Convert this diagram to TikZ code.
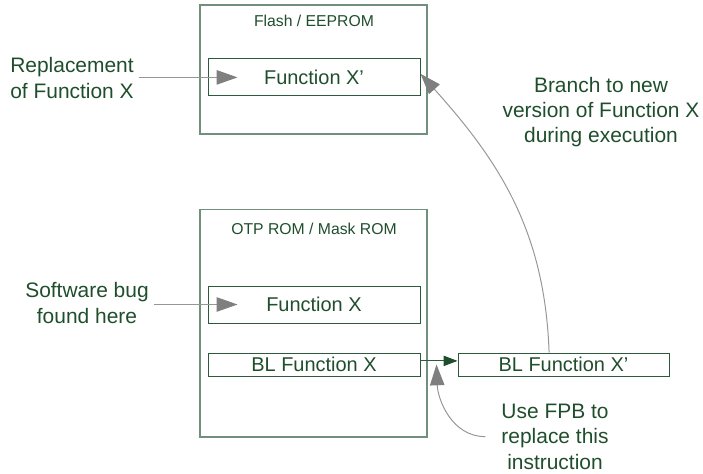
\documentclass[tikz,border=0pt]{standalone}
\usepackage{fontspec}
\setmainfont{Liberation Sans}
\usetikzlibrary{arrows.meta}
\definecolor{txtgreen}{HTML}{1F4E2C}
\definecolor{memframe}{HTML}{708F7C}
\definecolor{fnframe}{HTML}{2D5A3C}
\definecolor{ptrline}{HTML}{969696}
\definecolor{ptrhead}{HTML}{7F7F7F}

\begin{document}
\begin{tikzpicture}[
          x=1cm, y=1cm,
          every node/.style={text=txtgreen},
          mem/.style={draw=memframe, line width=0.9pt, minimum width=5.675cm},
          fn/.style={draw=fnframe, line width=0.7pt, inner sep=0pt, minimum width=5.3cm, font=\fontsize{14.2}{17}\selectfont},
          title/.style={font=\fontsize{11.2}{13}\selectfont},
          lbl/.style={align=center, font=\fontsize{14.9}{18}\selectfont},
          ptr/.style={draw=ptrline, line width=0.7pt, -{Triangle[length=5.2mm, width=3.6mm, color=ptrhead]}}
      ]
        \useasboundingbox (0,0) rectangle (17.575,11.825);
        % upper memory
        \node[mem, minimum height=3.225cm] (flash) at (7.84,10.09) {};
        \node[title] (flashtitle) at (7.85,11.3) {Flash / EEPROM};
        \node[fn, minimum height=0.925cm] (fnxnew) at (7.85,9.89) {Function X'};
        % lower memory
        \node[mem, minimum height=5.69cm] (otp) at (7.84,3.745) {};
        \node[title] (otptitle) at (7.85,6.1) {OTP ROM / Mask ROM};
        \node[fn, minimum height=0.925cm] (fnx) at (7.85,4.2125) {Function X};
        \node[fn, minimum height=0.575cm] (blx) at (7.85,2.7125) {BL Function X};
        \node[fn, minimum height=0.575cm, minimum width=5.275cm] (blxnew) at (14.0875,2.7125) {BL Function X'};
        % labels
        \node[lbl] (repl) at (1.8,9.875) {Replacement\\of Function X};
        \node[lbl] (bug) at (2.175,4.25) {Software bug\\found here};
        \node[lbl] (branch) at (15.025,9.02) {Branch to new\\version of Function X\\during execution};
        \node[lbl] (fpb) at (13.875,0.91) {Use FPB to\\replace this\\instruction};
        % connectors
        \draw[ptr] (repl.east |- fnxnew) -- ([xshift=0.75cm]fnxnew.west);
        \draw[ptr] (bug.east |- fnx) -- ([xshift=0.75cm]fnx.west);
        \draw[draw=fnframe, line width=0.7pt, -{Triangle[length=3.5mm, width=2.6mm, color=txtgreen]}] ([yshift=0.09cm]blx.east) -- ([yshift=0.09cm]blxnew.west);
        \draw[ptr] ([xshift=-0.36cm]blxnew.north) to[out=92, in=-48] ([yshift=0.09cm]fnxnew.east);
        \draw[ptr] ([xshift=-0.28cm]fpb.west) to[out=180, in=-88] ([xshift=0.4cm]blx.east);
      \end{tikzpicture}
\end{document}
